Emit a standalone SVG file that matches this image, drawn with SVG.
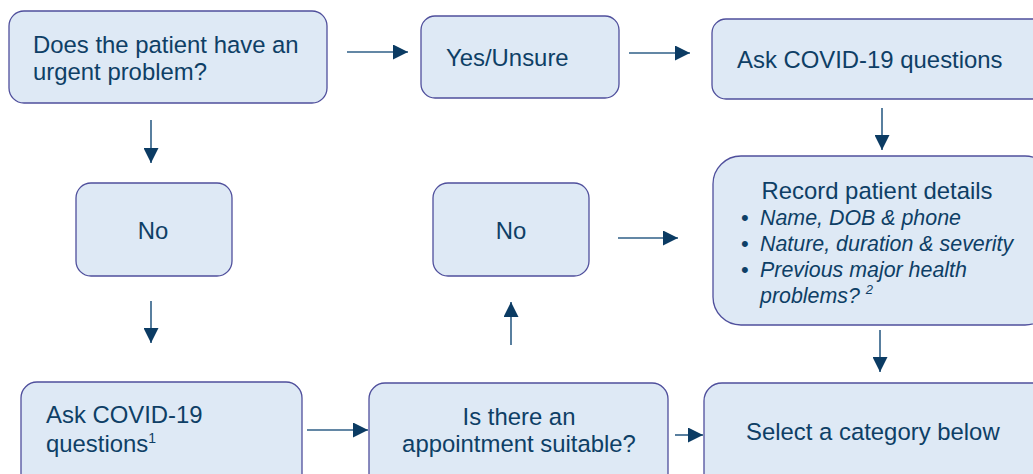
<svg xmlns="http://www.w3.org/2000/svg" width="1033" height="474" viewBox="0 0 1033 474">
<defs>
<style>
.box{fill:#dee9f5;stroke:#4f4f9c;stroke-width:1.3}
.t{font-family:"Liberation Sans",Arial,sans-serif;font-size:23.9px;fill:#0e3f66}
.b{font-family:"Liberation Sans",Arial,sans-serif;font-size:21.4px;font-style:italic;fill:#0e3f66}
.d{font-family:"Liberation Sans",Arial,sans-serif;font-size:22px;fill:#0e3f66}
.c{text-anchor:middle}
.ln{stroke:#2f5f87;stroke-width:1.6;fill:none;marker-end:url(#ah)}
</style>
<marker id="ah" viewBox="0 0 10 10" refX="10" refY="5" markerUnits="userSpaceOnUse" markerWidth="16" markerHeight="15" orient="auto">
<path d="M0,0 L10,5 L0,10 Z" fill="#0b3b63"/>
</marker>
</defs>
<rect width="1033" height="474" fill="#ffffff"/>
<g id="n1"><rect class="box" x="9" y="11" width="318" height="92" rx="15"/>
<text class="t" x="33" y="53">Does the patient have an</text>
<text class="t" x="33" y="80">urgent problem?</text></g>
<g id="n2"><rect class="box" x="421" y="16" width="198" height="82" rx="14"/>
<text class="t" x="446" y="66">Yes/Unsure</text></g>
<g id="n3"><rect class="box" x="712" y="19" width="340" height="80" rx="14"/>
<text class="t" x="737" y="68">Ask COVID-19 questions</text></g>
<g id="n4"><rect class="box" x="76" y="183" width="156" height="93" rx="15"/>
<text class="t c" x="153" y="239">No</text></g>
<g id="n5"><rect class="box" x="433" y="183" width="156" height="93" rx="15"/>
<text class="t c" x="511" y="239">No</text></g>
<g id="n6"><rect class="box" x="713" y="156" width="340" height="169" rx="28"/>
<text class="t c" x="877" y="199">Record patient details</text>
<text class="d" x="741" y="225">•</text><text class="b" x="760" y="225">Name, DOB &amp; phone</text>
<text class="d" x="741" y="251">•</text><text class="b" x="760" y="251">Nature, duration &amp; severity</text>
<text class="d" x="741" y="277">•</text><text class="b" x="760" y="277">Previous major health</text>
<text class="b" x="760" y="303">problems? <tspan font-size="13" dy="-9">2</tspan></text></g>
<g id="n7"><rect class="box" x="21" y="382" width="281" height="110" rx="16"/>
<text class="t" x="46" y="423">Ask COVID-19</text>
<text class="t" x="46" y="452">questions<tspan font-size="14" dy="-9">1</tspan></text></g>
<g id="n8"><rect class="box" x="369" y="383" width="299" height="110" rx="16"/>
<text class="t c" x="519" y="425">Is there an</text>
<text class="t c" x="519" y="452">appointment suitable?</text></g>
<g id="n9"><rect class="box" x="704" y="383" width="350" height="110" rx="18"/>
<text class="t" x="746" y="440">Select a category below</text></g>
<g id="connectors">
<line class="ln" x1="347" y1="52" x2="408" y2="52"/>
<line class="ln" x1="629" y1="53" x2="690" y2="53"/>
<line class="ln" x1="882" y1="108" x2="882" y2="150"/>
<line class="ln" x1="151" y1="120" x2="151" y2="163"/>
<line class="ln" x1="151" y1="301" x2="151" y2="343"/>
<line class="ln" x1="618" y1="238" x2="678" y2="238"/>
<line class="ln" x1="511" y1="345" x2="511" y2="302"/>
<line class="ln" x1="880" y1="330" x2="880" y2="372"/>
<line class="ln" x1="307" y1="430" x2="368" y2="430"/>
<line class="ln" x1="675" y1="435" x2="703" y2="435"/>
</g>
</svg>
